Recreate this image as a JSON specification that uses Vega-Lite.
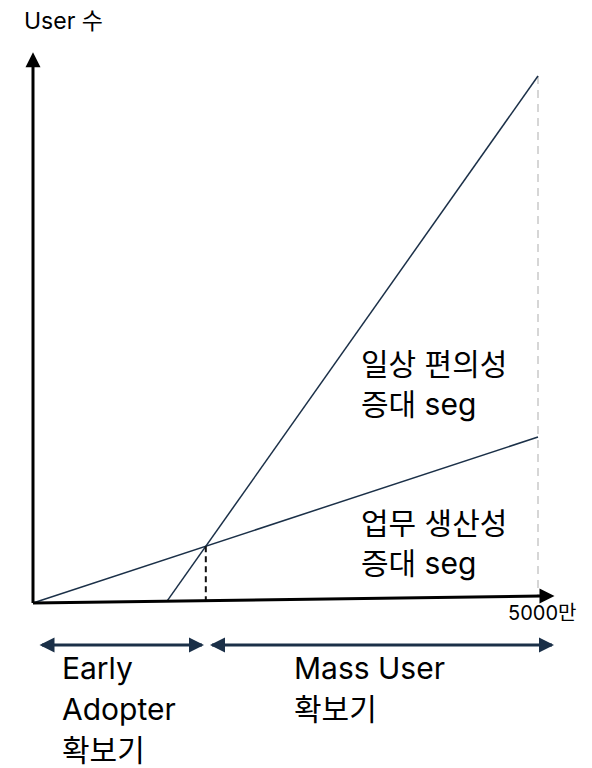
{
  "$schema": "https://vega.github.io/schema/vega-lite/v6.json",
  "width": 592,
  "height": 768,
  "padding": 0,
  "autosize": {"type": "none"},
  "background": "white",
  "config": {"view": {"stroke": null}},
  "datasets": {
    "axes": [
      {"x": 0, "y": 0, "x2": 0, "y2": 101.9},
      {"x": 0, "y": 0, "x2": 5030, "y2": 1.33}
    ],
    "lines": [
      {"series": "업무 생산성", "x": 0, "y": 0, "x2": 5000, "y2": 31.5},
      {"series": "일상 편의성", "x": 1327, "y": 0.35, "x2": 5000, "y2": 100}
    ],
    "cross": [{"x": 1711, "y": 10.78, "x2": 1711, "y2": 0.45}],
    "limit": [{"x": 5000, "y": 100, "x2": 5000, "y2": 1.33}],
    "spans": [
      {"x": 89, "y": -7.97, "x2": 1673, "y2": -7.97},
      {"x": 1772, "y": -7.97, "x2": 5139, "y2": -7.97}
    ],
    "heads": [
      {"x": 0, "y": 103.1, "dir": "up", "group": "axis"},
      {"x": 5089, "y": 1.33, "dir": "right", "group": "axis"},
      {"x": 138.6, "y": -7.97, "dir": "left", "group": "span"},
      {"x": 1619, "y": -7.97, "dir": "right", "group": "span"},
      {"x": 1827, "y": -7.97, "dir": "left", "group": "span"},
      {"x": 5084, "y": -7.97, "dir": "right", "group": "span"}
    ],
    "labels": [
      {"x": 3247, "y": 43.26, "text": "일상 편의성"},
      {"x": 3247, "y": 35.67, "text": "증대 seg"},
      {"x": 3247, "y": 13.09, "text": "업무 생산성"},
      {"x": 3247, "y": 5.5, "text": "증대 seg"},
      {"x": 287, "y": -14.42, "text": "Early"},
      {"x": 287, "y": -22.2, "text": "Adopter"},
      {"x": 287, "y": -29.98, "text": "확보기"},
      {"x": 2584, "y": -14.42, "text": "Mass User"},
      {"x": 2584, "y": -22.2, "text": "확보기"}
    ],
    "small": [
      {"x": -89, "y": 108.92, "text": "User 수", "fs": 23},
      {"x": 4703, "y": -3.23, "text": "5000만", "fs": 20}
    ]
  },
  "encoding": {
    "x": {"field": "x", "type": "quantitative", "axis": null, "scale": {"domain": [-326.7, 5534.7], "nice": false, "zero": false}},
    "y": {"field": "y", "type": "quantitative", "axis": null, "scale": {"domain": [-31.31, 114.42], "nice": false, "zero": false}}
  },
  "layer": [
    {
      "data": {"name": "limit"},
      "mark": {"type": "rule", "color": "#d6d6d6", "strokeWidth": 2, "strokeDash": [8, 6]},
      "encoding": {"x2": {"field": "x2"}, "y2": {"field": "y2"}}
    },
    {
      "data": {"name": "lines"},
      "mark": {"type": "rule", "color": "#1b3048", "strokeWidth": 1.5},
      "encoding": {"x2": {"field": "x2"}, "y2": {"field": "y2"}}
    },
    {
      "data": {"name": "cross"},
      "mark": {"type": "rule", "color": "#111111", "strokeWidth": 2, "strokeDash": [6, 4]},
      "encoding": {"x2": {"field": "x2"}, "y2": {"field": "y2"}}
    },
    {
      "data": {"name": "axes"},
      "mark": {"type": "rule", "color": "#000000", "strokeWidth": 3},
      "encoding": {"x2": {"field": "x2"}, "y2": {"field": "y2"}}
    },
    {
      "data": {"name": "spans"},
      "mark": {"type": "rule", "color": "#1b3048", "strokeWidth": 3},
      "encoding": {"x2": {"field": "x2"}, "y2": {"field": "y2"}}
    },
    {
      "data": {"name": "heads"},
      "mark": {"type": "point", "filled": true, "opacity": 1, "size": 225, "strokeWidth": 0},
      "encoding": {
        "shape": {
          "field": "dir", "type": "nominal", "legend": null,
          "scale": {"domain": ["up", "right", "left"], "range": ["M0,-1L1,1L-1,1Z", "M1,0L-1,-1L-1,1Z", "M-1,0L1,-1L1,1Z"]}
        },
        "color": {
          "field": "group", "type": "nominal", "legend": null,
          "scale": {"domain": ["axis", "span"], "range": ["#000000", "#1b3048"]}
        }
      }
    },
    {
      "data": {"name": "labels"},
      "mark": {"type": "text", "align": "left", "baseline": "alphabetic", "font": "Inter, 'Noto Sans CJK KR'", "fontSize": 30, "color": "#000000"},
      "encoding": {"text": {"field": "text"}}
    },
    {
      "data": {"name": "small"},
      "mark": {"type": "text", "align": "left", "baseline": "alphabetic", "font": "Inter, 'Noto Sans CJK KR'", "color": "#000000"},
      "encoding": {"text": {"field": "text"}, "size": {"field": "fs", "type": "quantitative", "scale": null, "legend": null}}
    }
  ]
}
